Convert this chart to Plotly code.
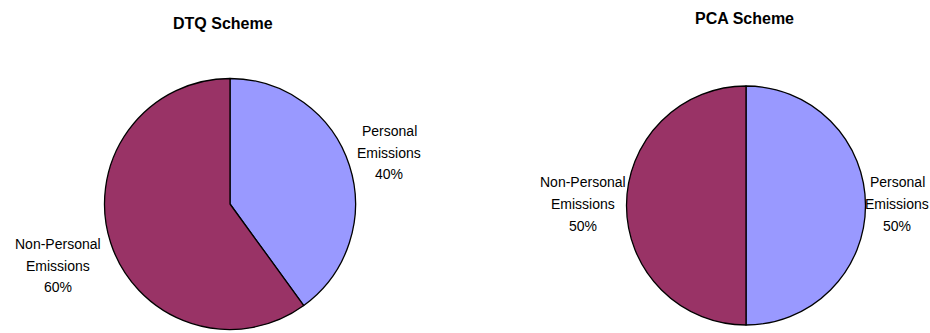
import plotly.graph_objects as go

W, H = 930, 333

# ---- data ----
categories = ["Personal Emissions", "Non-Personal Emissions"]
dtq_values = [40, 60]
pca_values = [50, 50]
titles = ["DTQ Scheme", "PCA Scheme"]
colors = ["#9999FF", "#993366"]

FONT = "Liberation Sans, Arial, sans-serif"
LINE_SP = 21.8


def px_x(x):
    return x / W


def px_y(y):
    return 1 - y / H


layouts = [
    dict(values=dtq_values, cx=230, cy=204, r=125.5, title=titles[0], tx=223, ty=23,
         label_pos=[(389, 152.5), (58, 265.5)]),
    dict(values=pca_values, cx=746, cy=205.5, r=119.5, title=titles[1], tx=744, ty=18,
         label_pos=[(897, 204), (583, 204)]),
]

fig = go.Figure()
annotations = []
for spec in layouts:
    cx, cy, r = spec["cx"], spec["cy"], spec["r"]
    fig.add_trace(go.Pie(
        labels=categories,
        values=spec["values"],
        sort=False,
        direction="clockwise",
        rotation=0,
        textinfo="none",
        marker=dict(colors=colors, line=dict(color="black", width=1.3)),
        domain=dict(x=[px_x(cx - r), px_x(cx + r)], y=[px_y(cy + r), px_y(cy - r)]),
        showlegend=False,
    ))
    annotations.append(dict(
        text=spec["title"], x=px_x(spec["tx"]), y=px_y(spec["ty"]),
        xref="paper", yref="paper", showarrow=False,
        xanchor="center", yanchor="middle",
        font=dict(family=FONT, size=16, color="black", weight="bold"),
    ))
    total = sum(spec["values"])
    for cat, val, (lx, ly) in zip(categories, spec["values"], spec["label_pos"]):
        pct = round(val / total * 100)
        lines = cat.split(" ") + [f"{pct}%"]
        n = len(lines)
        for k, line in enumerate(lines):
            yy = ly + (k - (n - 1) / 2) * LINE_SP
            annotations.append(dict(
                text=line, x=px_x(lx), y=px_y(yy),
                xref="paper", yref="paper", showarrow=False,
                xanchor="center", yanchor="middle",
                font=dict(family=FONT, size=14, color="black"),
            ))

fig.update_layout(
    width=W, height=H,
    margin=dict(l=0, r=0, t=0, b=0),
    paper_bgcolor="white", plot_bgcolor="white",
    annotations=annotations,
)

fig.write_html("out.html")
